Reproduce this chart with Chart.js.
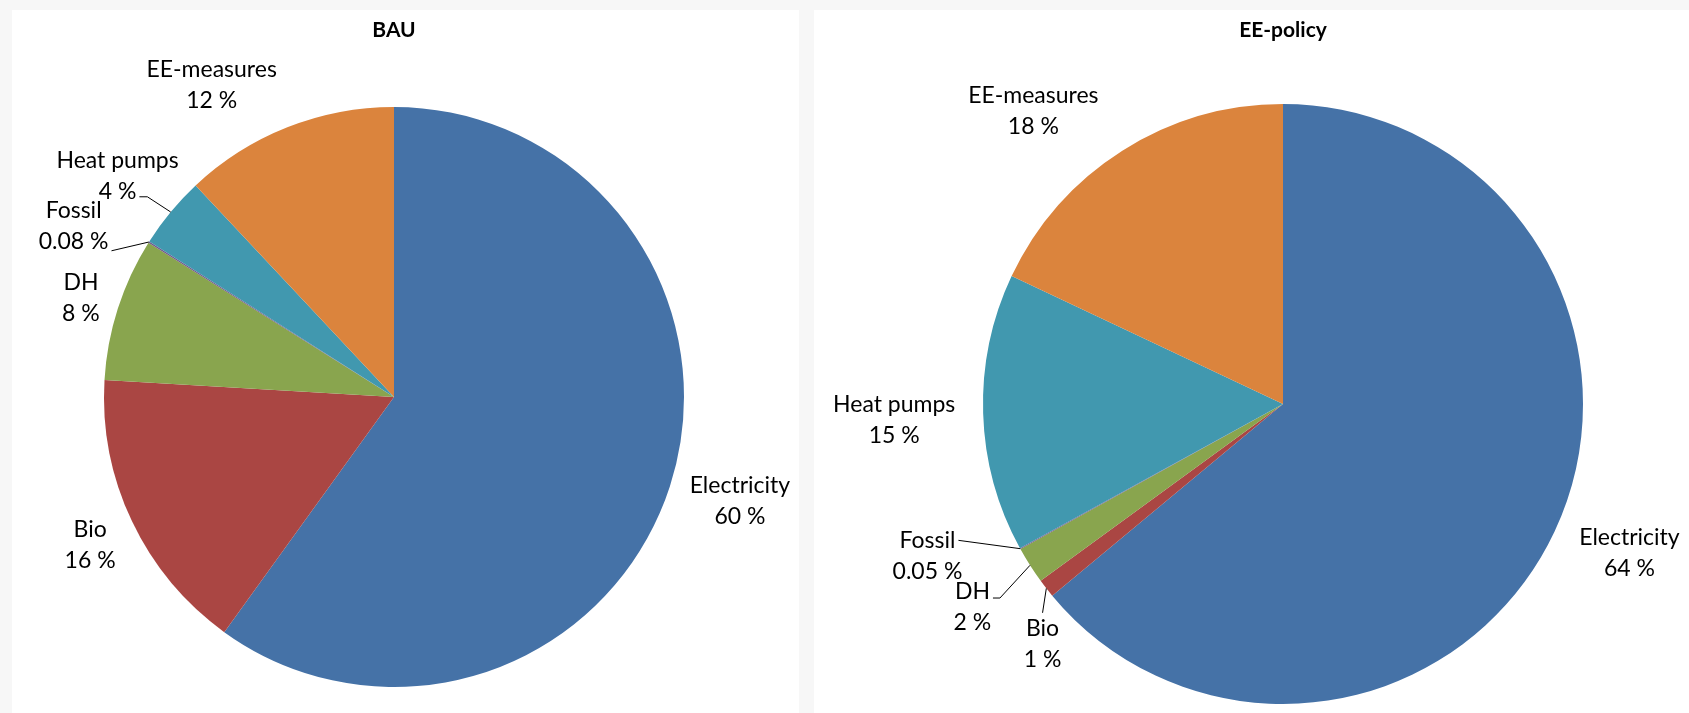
<!DOCTYPE html>
<html>
<head>
<meta charset="utf-8">
<script src="https://cdn.jsdelivr.net/npm/chart.js@4"></script>
<style>
  html, body { margin: 0; padding: 0; }
  body { width: 1689px; height: 713px; background: #f7f7f7; position: relative; overflow: hidden; }
  .panel { position: absolute; top: 10px; height: 703px; background: #fff; }
  #bauPanel { left: 12px; width: 787px; }
  #eePanel { left: 814px; width: 875px; }
  canvas { display: block; }
</style>
</head>
<body>
<div class="panel" id="bauPanel"><canvas id="bau" width="787" height="703"></canvas></div>
<div class="panel" id="eePanel"><canvas id="ee" width="875" height="703"></canvas></div>
<script>
var categories = ['Electricity', 'Bio', 'DH', 'Fossil', 'Heat pumps', 'EE-measures'];
var bauValues = [60, 16, 8, 0.08, 4, 12];
var bauPct = ['60 %', '16 %', '8 %', '0.08 %', '4 %', '12 %'];
var eeValues = [64, 1, 2, 0.05, 15, 18];
var eePct = ['64 %', '1 %', '2 %', '0.05 %', '15 %', '18 %'];

var colors = ['#4572a7', '#aa4643', '#89a54e', '#71588f', '#4198af', '#db843d'];

var LABEL_FONT = '23px Lato, "Open Sans", sans-serif';
var TITLE_FONT = 'bold 21px Lato, "Open Sans", sans-serif';
var LINE_H = 31;

// where each label sits: k * radius along the slice middle, then nudged
var bauPlace = [
    {k: 1.25, dx: 1, dy: -7},
    {k: 1.16, dx: 0, dy: 4},
    {k: 1.13, dx: -1, dy: 1},
    {k: 1.25, dx: -14, dy: 23, leader: {line: 2, dy: 9, elbow: 0}},
    {k: 1.22, dx: -4, dy: 5, leader: {line: 2, dy: 5, elbow: 8}},
    {k: 1.25, dx: -49, dy: 25}
];
var eePlace = [
    {k: 1.25, dx: 7, dy: -10},
    {k: 1.13, dx: 27, dy: 32, leader: {top: true}},
    {k: 1.2, dx: -7, dy: 10, leader: {line: 1, dy: 6, elbow: 7}},
    {k: 1.25, dx: -27, dy: -29, leader: {line: 1, dy: 0, elbow: 0}},
    {k: 1.3, dx: 1, dy: 4},
    {k: 1.28, dx: -44, dy: 31}
];

var pieLabels = {
    id: 'pieLabels',
    afterDatasetsDraw: function(chart, args, opts) {
        var ctx = chart.ctx;
        var meta = chart.getDatasetMeta(0);
        ctx.save();
        ctx.font = LABEL_FONT;
        ctx.fillStyle = '#000';
        ctx.strokeStyle = '#000';
        ctx.lineWidth = 1;
        ctx.textAlign = 'center';
        ctx.textBaseline = 'middle';
        meta.data.forEach(function(arc, i) {
            var p = arc.getProps(['x', 'y', 'startAngle', 'endAngle', 'outerRadius'], true);
            var mid = (p.startAngle + p.endAngle) / 2;
            var cos = Math.cos(mid), sin = Math.sin(mid);
            var pl = opts.place[i];
            var lx = p.x + cos * p.outerRadius * pl.k + pl.dx;
            var ly = p.y + sin * p.outerRadius * pl.k + pl.dy;
            var y1 = ly - LINE_H / 2, y2 = ly + LINE_H / 2;
            var name = chart.data.labels[i], pct = opts.pct[i];
            ctx.fillText(name, lx, y1);
            ctx.fillText(pct, lx, y2);

            var ld = pl.leader;
            if (!ld) return;
            var ex = p.x + cos * p.outerRadius, ey = p.y + sin * p.outerRadius;
            var sx, sy;
            if (ld.top) {
                sx = lx; sy = y1 - 16;
            } else {
                var w = ctx.measureText(ld.line == 1 ? name : pct).width;
                sx = lx + w / 2 + 3;
                sy = (ld.line == 1 ? y1 : y2) + ld.dy;
            }
            ctx.beginPath();
            ctx.moveTo(sx, sy);
            if (ld.elbow) {
                sx += ld.elbow;
                ctx.lineTo(sx, sy);
            }
            ctx.lineTo(ex, ey);
            ctx.stroke();
        });
        ctx.restore();
    },
    afterDraw: function(chart, args, opts) {
        var ctx = chart.ctx;
        ctx.save();
        ctx.font = TITLE_FONT;
        ctx.fillStyle = '#000';
        ctx.textAlign = 'center';
        ctx.textBaseline = 'middle';
        ctx.fillText(opts.title, opts.cx, 20);
        ctx.restore();
    }
};

function makePie(id, title, values, pct, place, cx, cy, r) {
    var canvas = document.getElementById(id);
    var W = canvas.width, H = canvas.height;
    return new Chart(canvas, {
        type: 'pie',
        data: {
            labels: categories,
            datasets: [{
                data: values,
                backgroundColor: colors,
                borderWidth: 0
            }]
        },
        options: {
            responsive: false,
            animation: false,
            devicePixelRatio: 1,
            radius: r,
            layout: {
                padding: {left: cx - r, top: cy - r, right: W - cx - r, bottom: H - cy - r}
            },
            plugins: {
                legend: {display: false},
                tooltip: {enabled: false},
                title: {display: false},
                pieLabels: {title: title, pct: pct, place: place, cx: cx}
            }
        },
        plugins: [pieLabels]
    });
}

makePie('bau', 'BAU', bauValues, bauPct, bauPlace, 382, 387, 290);
makePie('ee', 'EE-policy', eeValues, eePct, eePlace, 469, 394, 300);
</script>
</body>
</html>
